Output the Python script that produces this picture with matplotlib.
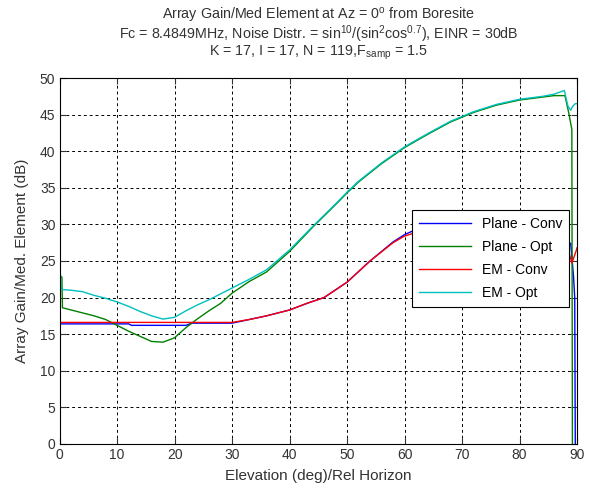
"""Array gain / median element vs elevation (MATLAB-style figure)."""
import matplotlib
matplotlib.use("Agg")
import matplotlib.pyplot as plt

plt.rcParams["font.family"] = ["Liberation Sans", "DejaVu Sans"]
plt.rcParams["mathtext.fontset"] = "custom"
plt.rcParams["mathtext.rm"] = "Liberation Sans"
plt.rcParams["mathtext.it"] = "Liberation Sans"

# Plane - Conv
x_plane_conv = [0, 12, 12.5, 22, 23, 30, 33, 36, 40, 43, 46, 50, 54, 58, 60, 62,
                64, 70, 76, 82, 86, 88.3, 88.9, 89.4, 89.6, 89.7]
y_plane_conv = [16.4, 16.4, 16.2, 16.2, 16.5, 16.5, 17.0, 17.5, 18.3, 19.2, 20.0, 22.1,
                25.0, 27.6, 28.6, 29.3, 29.8, 30.8, 30.8, 29.8, 28.5, 27.5, 27.4, 22.8,
                20.0, 0.0]

# Plane - Opt
x_plane_opt = [0, 0.4, 0.5, 2, 4, 6, 8, 10, 12, 14, 16, 18, 20, 22, 24, 26, 28, 30,
               33, 36, 40, 44, 48, 50, 52, 56, 60, 64, 68, 72, 76, 80, 84, 86, 87.9,
               88.6, 88.9, 89.1, 89.2]
y_plane_opt = [23.0, 22.8, 18.6, 18.3, 17.9, 17.5, 17.0, 16.2, 15.4, 14.7, 14.0, 13.9,
               14.5, 15.9, 17.1, 18.2, 19.2, 20.6, 22.2, 23.5, 26.3, 29.6, 32.7, 34.3,
               35.8, 38.3, 40.5, 42.3, 44.0, 45.3, 46.3, 47.0, 47.4, 47.6, 47.6,
               45.1, 43.8, 43.0, 0.0]

# EM - Conv
x_em_conv = [0, 30, 33, 36, 40, 43, 46, 50, 54, 58, 60, 62, 64, 70, 76, 82, 86,
             88.3, 88.9, 89.1, 89.9, 90]
y_em_conv = [16.6, 16.6, 17.0, 17.5, 18.3, 19.2, 20.0, 22.1, 25.0, 27.5, 28.4, 28.9,
             29.5, 30.5, 30.5, 29.5, 28.2, 27.0, 25.3, 24.7, 26.5, 26.8]

# EM - Opt
x_em_opt = [0, 0.3, 2, 4, 6, 8, 10, 12, 14, 16, 18, 20, 22, 24, 26, 28, 30, 33, 36,
            40, 44, 48, 50, 52, 56, 60, 64, 68, 72, 76, 80, 84, 86, 87.8, 88.4, 88.9,
            89.2, 89.7, 90]
y_em_opt = [24.9, 21.1, 21.0, 20.8, 20.3, 19.9, 19.4, 18.8, 18.1, 17.5, 17.05, 17.3,
            18.2, 19.0, 19.7, 20.5, 21.3, 22.5, 23.8, 26.5, 29.7, 32.8, 34.4, 35.9,
            38.4, 40.6, 42.4, 44.1, 45.4, 46.4, 47.1, 47.5, 47.8, 48.3, 46.2, 45.6,
            46.1, 46.5, 46.5]

series = [
    ("Plane - Conv", x_plane_conv, y_plane_conv, "#0000FF"),
    ("Plane - Opt", x_plane_opt, y_plane_opt, "#008000"),
    ("EM - Conv", x_em_conv, y_em_conv, "#FF0000"),
    ("EM - Opt", x_em_opt, y_em_opt, "#00BFBF"),
]

TXT = "#333333"

fig = plt.figure(figsize=(5.9, 4.91), dpi=100, facecolor="white")
ax = fig.add_axes([0.101, 0.096, 0.877, 0.745])

for label, xs, ys, color in series:
    ax.plot(xs, ys, color=color, linewidth=1.0, label=label)

ax.set_xlim(0, 90)
ax.set_ylim(0, 50)
ax.set_xticks(range(0, 91, 10))
ax.set_yticks(range(0, 51, 5))
ax.grid(True, color="black", linestyle=(0, (3, 3)), linewidth=0.7)
ax.tick_params(direction="in", top=True, right=True, length=4, labelsize=10,
               colors=TXT, labelcolor=TXT, pad=3)
for spine in ax.spines.values():
    spine.set_color("black")
    spine.set_linewidth(0.8)

ax.set_xlabel("Elevation (deg)/Rel Horizon", fontsize=11, color=TXT, labelpad=5)
ax.set_ylabel("Array Gain/Med. Element (dB)", fontsize=11, color=TXT, labelpad=8)
ax.set_title("Array Gain/Med Element at Az = 0$^o$ from Boresite\n"
             "Fc = 8.4849MHz, Noise Distr. = sin$^{10}$/(sin$^2$cos$^{0.7}$), EINR = 30dB\n"
             "K = 17, I = 17, N = 119,F$_{\\mathrm{samp}}$ = 1.5",
             fontsize=10.3, color=TXT, linespacing=0.92, pad=16)

leg = ax.legend(loc="upper right", bbox_to_anchor=(0.985, 0.64), borderaxespad=0,
                fontsize=10, fancybox=False, framealpha=1, edgecolor="black",
                handlelength=3.7, borderpad=0.5, labelspacing=0.65)
leg.get_frame().set_linewidth(0.8)

fig.savefig("out.png", dpi=100, facecolor="white")
